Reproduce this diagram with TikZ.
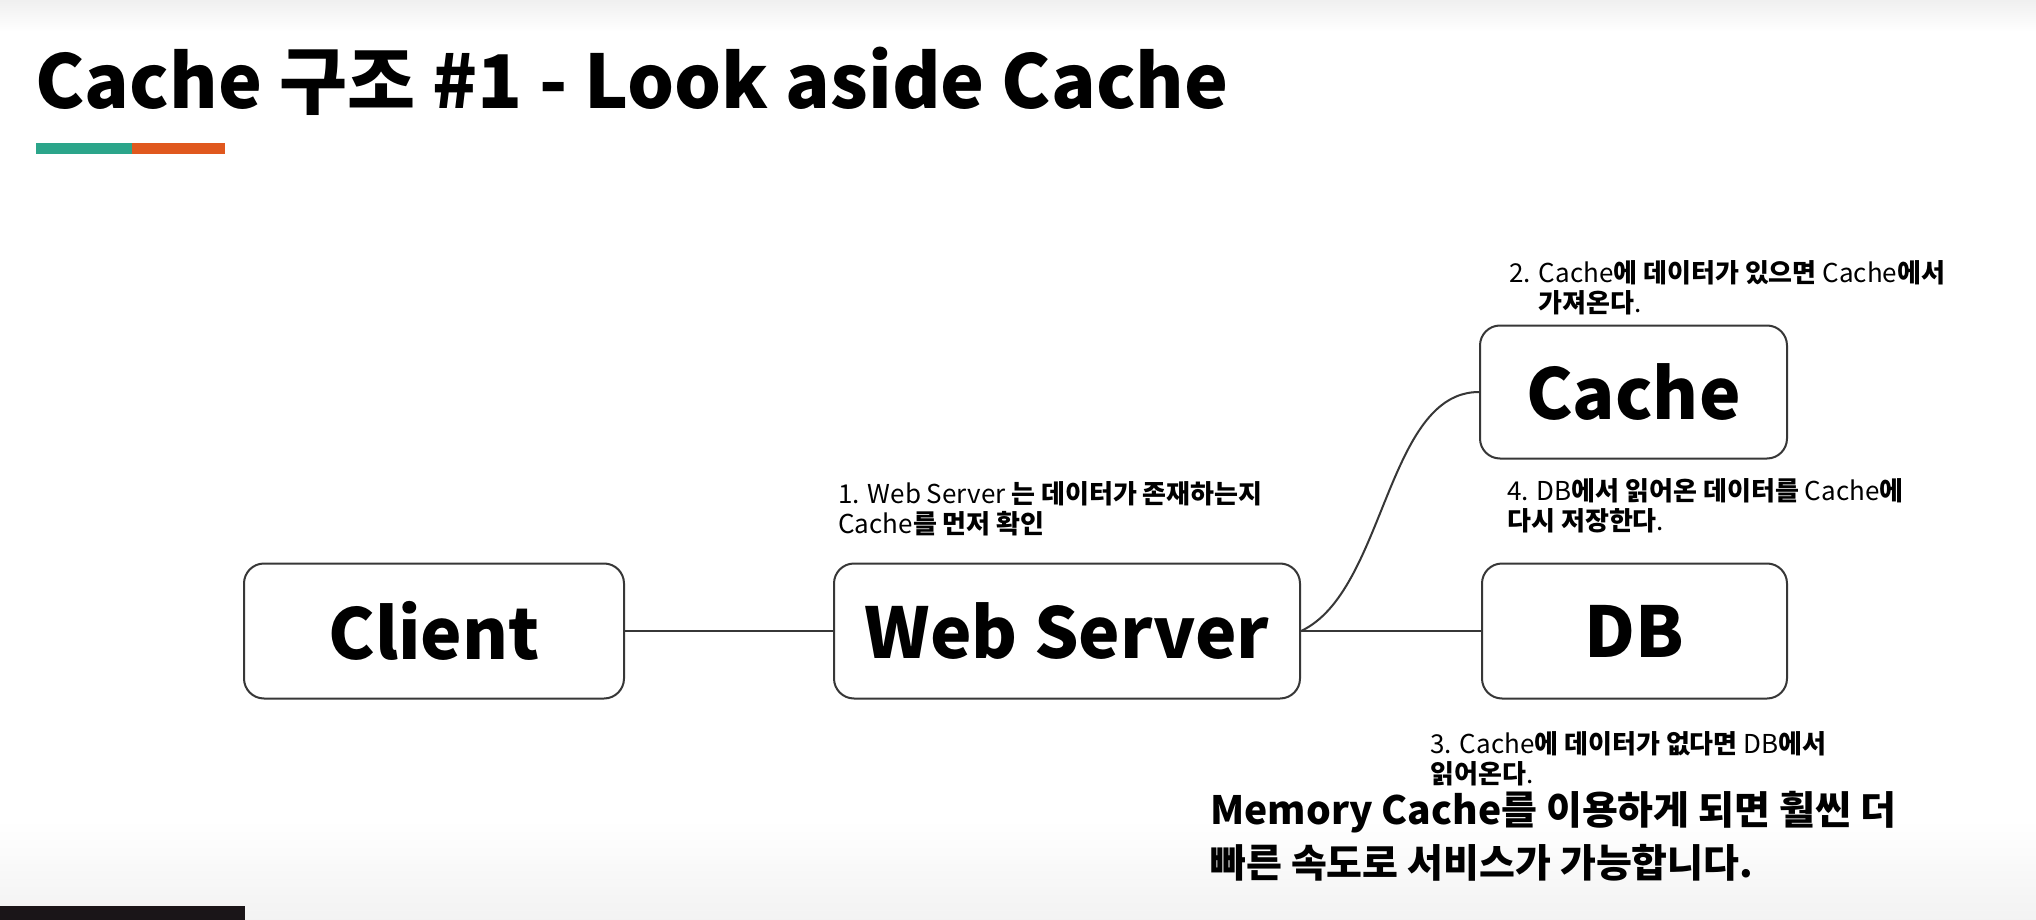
\documentclass[tikz,border=0pt]{standalone}
\usepackage{fontspec}
\setmainfont{Noto Sans CJK KR}
\usepackage{tikz}
\definecolor{barteal}{RGB}{43,165,138}
\definecolor{barorange}{RGB}{224,88,30}
\definecolor{lineclr}{RGB}{55,55,55}
\definecolor{stripdark}{RGB}{26,21,24}
\newcommand{\kr}[1]{{\bfseries #1}}

\begin{document}
\begin{tikzpicture}[x=0.5pt,y=0.5pt,yscale=-1,xscale=1,
  blockbox/.style={draw=lineclr, line width=1pt, rounded corners=10pt, fill=white,
    minimum height=67.5pt, inner sep=0pt, font=\fontsize{35}{40}\selectfont\bfseries},
  note/.style={anchor=north west, inner sep=0pt, align=left,
    font=\fontsize{13}{15}\selectfont},
  link/.style={draw=lineclr, line width=1pt}]
\useasboundingbox (0,0) rectangle (2036,920);

%Background
\fill[white] (0,0) rectangle (2036,920);
\shade[top color=black!6, bottom color=white] (0,0) rectangle (2036,32);
\shade[top color=white, bottom color=black!5] (0,820) rectangle (2036,920);
\fill[stripdark] (0,906) rectangle (245,920);

%Title
\node[anchor=base west, inner sep=0pt, font=\fontsize{37}{42}\selectfont\bfseries] (title) at (35,109) {Cache 구조 \#1 - Look aside Cache};
\fill[barteal] (36,143) rectangle (132,154);
\fill[barorange] (132,143) rectangle (225,154);

%Boxes
\node[blockbox, minimum width=190pt] (client) at (434,631) {Client};
\node[blockbox, minimum width=233pt] (web) at (1067,631) {Web Server};
\node[blockbox, minimum width=153.5pt, minimum height=66.5pt] (cache) at (1633.5,392) {Cache};
\node[blockbox, minimum width=152.5pt] (db) at (1634.5,631) {DB};

%Lines
\draw[link] (client.east) -- (web.west);
\draw[link] (web.east) -- (db.west);
\draw[link] (web.east) to[out=-25,in=180,looseness=0.8] (cache.west);

%Notes
\node[note] (step1) at (838,481) {1. Web Server \kr{는 데이터가 존재하는지}\\Cache\kr{를 먼저 확인}};
\node[note] (step2) at (1509,260) {2. Cache\kr{에 데이터가 있으면} Cache\kr{에서}\\\phantom{2. }\kr{가져온다}.};
\node[note] (step4) at (1507,478) {4. DB\kr{에서 읽어온 데이터를} Cache\kr{에}\\\kr{다시 저장한다}.};
\node[note] (step3) at (1430,731) {3. Cache\kr{에 데이터가 없다면} DB\kr{에서}\\\kr{읽어온다}.};
\node[anchor=north west, inner sep=0pt, align=left, font=\fontsize{19.5}{26.5}\selectfont\bfseries] (summary) at (1210,791) {Memory Cache를 이용하게 되면 훨씬 더\\빠른 속도로 서비스가 가능합니다.};

\end{tikzpicture}
\end{document}
